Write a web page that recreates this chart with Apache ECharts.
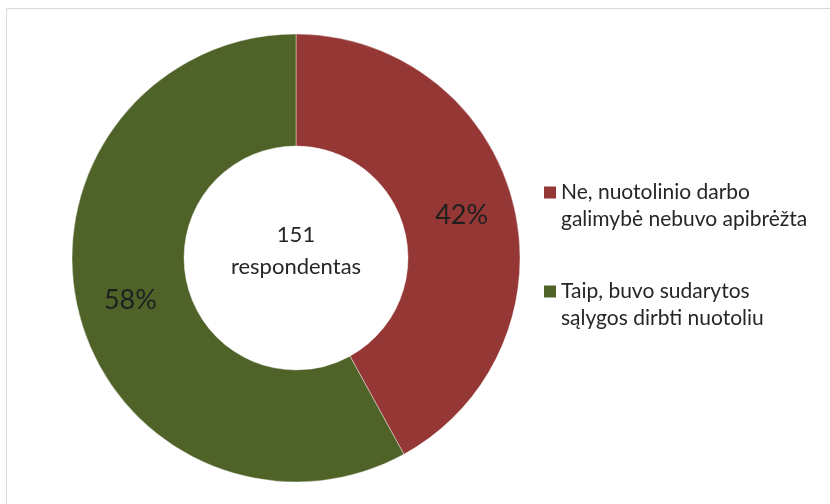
<!DOCTYPE html>
<html>
<head>
<meta charset="utf-8">
<style>
  html, body { margin: 0; padding: 0; background: #ffffff; }
  #chart { width: 830px; height: 504px; }
</style>
<script src="https://cdn.jsdelivr.net/npm/echarts@6/dist/echarts.min.js"></script>
</head>
<body>
<div id="chart"></div>
<script>
// Answers to the remote-work question
const categories = [
  'Ne, nuotolinio darbo\ngalimybė nebuvo apibrėžta',
  'Taip, buvo sudarytos\nsąlygos dirbti nuotoliu'
];
const shares = [42, 58];
const colors = ['#953735', '#4F6228'];
const centerLines = ['151', 'respondentas'];

const FONT = 'Lato, "Open Sans", sans-serif';
const LINE = 27;

const chart = echarts.init(document.getElementById('chart'), null, { renderer: 'canvas' });

chart.setOption({
  animation: false,
  backgroundColor: '#ffffff',
  color: colors,
  legend: {
    orient: 'vertical',
    left: 544,
    top: 152,
    padding: 0,
    itemWidth: 12,
    itemHeight: 12,
    itemGap: 18,
    icon: 'rect',
    selectedMode: false,
    data: categories,
    // a leading blank line keeps the marker level with the first text line
    formatter: name => '\n' + name,
    itemStyle: { borderWidth: 0 },
    textStyle: {
      fontFamily: FONT,
      fontSize: 21,
      color: '#262626',
      lineHeight: LINE
    }
  },
  graphic: [
    {
      type: 'rect',
      silent: true,
      shape: { x: 6.5, y: 8.5, width: 900, height: 600 },
      style: { fill: 'none', stroke: '#d9d9d9', lineWidth: 1 }
    },
    {
      type: 'text',
      silent: true,
      x: 296,
      y: 219,
      style: {
        text: centerLines.join('\n'),
        align: 'center',
        verticalAlign: 'top',
        font: '22px ' + FONT,
        lineHeight: 32,
        fill: '#262626'
      }
    }
  ],
  series: [{
    type: 'pie',
    center: [296, 258],
    radius: [112, 224],
    startAngle: 90,
    clockwise: true,
    avoidLabelOverlap: false,
    itemStyle: { borderColor: '#ffffff', borderWidth: 0.4 },
    label: {
      show: true,
      position: 'inside',
      formatter: '{c}%',
      fontFamily: FONT,
      fontSize: 27,
      color: '#1f1f1f'
    },
    labelLine: { show: false },
    emphasis: { disabled: true },
    data: categories.map((name, i) => ({ name: name, value: shares[i] }))
  }]
});
</script>
</body>
</html>
